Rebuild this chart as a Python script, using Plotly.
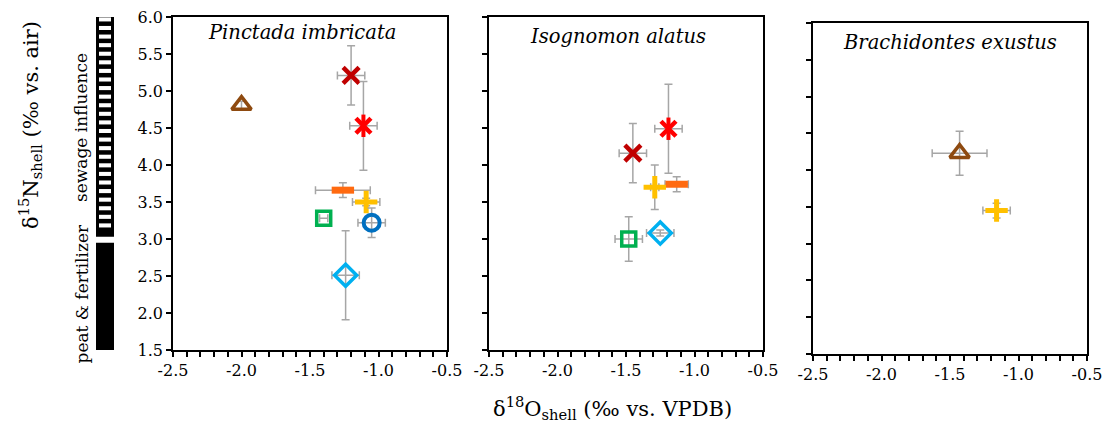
import plotly.graph_objects as go

# ---------------- data ----------------
panel_titles = ["Pinctada imbricata", "Isognomon alatus", "Brachidontes exustus"]

x_ticks = [-2.5, -2.0, -1.5, -1.0, -0.5]
y_ticks = [1.5, 2.0, 2.5, 3.0, 3.5, 4.0, 4.5, 5.0, 5.5, 6.0]

# per series: values per panel (None = absent)
tri_x = [-2.00, None, -1.43]
tri_y = [4.81, None, 4.23]
tri_ex = [0.0, None, 0.20]
tri_ey = [0.05, None, 0.30]

xdr_x = [-1.20, -1.45, None]
xdr_y = [5.21, 4.16, None]
xdr_ex = [0.10, 0.10, None]
xdr_ey = [0.40, 0.40, None]

ast_x = [-1.11, -1.19, None]
ast_y = [4.53, 4.49, None]
ast_ex = [0.10, 0.10, None]
ast_ey = [0.60, 0.60, None]

dash_x = [-1.26, -1.13, None]
dash_y = [3.66, 3.74, None]
dash_ex = [0.20, 0.085, None]
dash_ey = [0.10, 0.10, None]

plus_x = [-1.09, -1.29, -1.16]
plus_y = [3.50, 3.70, 3.45]
plus_ex = [0.10, 0.03, 0.10]
plus_ey = [0.05, 0.30, 0.10]

sq_x = [-1.40, -1.48, None]
sq_y = [3.28, 3.00, None]
sq_ex = [0.03, 0.10, None]
sq_ey = [0.0, 0.30, None]

circ_x = [-1.05, None, None]
circ_y = [3.22, None, None]
circ_ex = [0.10, None, None]
circ_ey = [0.20, None, None]

dia_x = [-1.24, -1.25, None]
dia_y = [2.51, 3.08, None]
dia_ex = [0.10, 0.10, None]
dia_ey = [0.60, 0.04, None]

source_bands = ["sewage influence", "peat & fertilizer"]
band_low = [3.0, 1.5]
band_high = [6.0, 3.0]

# ---------------- styles ----------------
series = [
    (tri_x, tri_y, tri_ex, tri_ey, [("triangle-up-open", 17, 3.5)], "#8E4A10"),
    (xdr_x, xdr_y, xdr_ex, xdr_ey, [("x-thin-open", 16, 4.5)], "#C00000"),
    (ast_x, ast_y, ast_ex, ast_ey, [("x-thin-open", 15, 4.5), ("line-ns-open", 16, 4)], "#FF0000"),
    (dash_x, dash_y, dash_ex, dash_ey, [("line-ew-open", 16, 7)], "#FF6A10"),
    (plus_x, plus_y, plus_ex, plus_ey, [("cross-thin-open", 16, 5)], "#FFC000"),
    (sq_x, sq_y, sq_ex, sq_ey, [("square-open", 14, 3.5)], "#00B050"),
    (circ_x, circ_y, circ_ex, circ_ey, [("circle-open", 16, 4)], "#0070C0"),
    (dia_x, dia_y, dia_ex, dia_ey, [("diamond-open", 17, 3.5)], "#00B0F0"),
]

W, H = 1111, 425
SERIF = "DejaVu Serif"
ERR = "#A6A6A6"

fig = go.Figure()

for (xs, ys, exs, eys, layers, col) in series:
    for p in range(3):
        if xs[p] is None:
            continue
        suffix = "" if p == 0 else str(p + 1)
        for k, (sym, size, lw) in enumerate(layers):
            fig.add_trace(go.Scatter(
                x=[xs[p]], y=[ys[p]], mode="markers",
                xaxis="x" + suffix, yaxis="y" + suffix,
                marker=dict(symbol=sym, size=size, color=col,
                            line=dict(color=col, width=lw)),
                error_x=dict(type="data", array=[exs[p]], color=ERR,
                             thickness=1.5, width=4, visible=(k == 0 and exs[p] > 0)),
                error_y=dict(type="data", array=[eys[p]], color=ERR,
                             thickness=1.5, width=4, visible=(k == 0 and eys[p] > 0)),
                showlegend=False, hoverinfo="skip",
            ))

x_dom_px = [(173, 447), (489, 763), (813, 1087)]
y_dom_px = [(17, 350), (17, 350), (23, 354)]

axis_common = dict(showline=True, linecolor="black", linewidth=1.5, mirror=True,
                   ticks="outside", ticklen=5, tickwidth=1.5, tickcolor="black",
                   showgrid=False, zeroline=False, automargin=False,
                   tickfont=dict(family=SERIF, size=16, color="black"))

layout = dict(width=W, height=H, margin=dict(l=0, r=0, t=0, b=0, autoexpand=False),
              paper_bgcolor="white", plot_bgcolor="white", showlegend=False,
              font=dict(family=SERIF))

for p in range(3):
    suffix = "" if p == 0 else str(p + 1)
    x0, x1 = x_dom_px[p]
    yt, yb = y_dom_px[p]
    layout["xaxis" + suffix] = dict(
        axis_common, domain=[x0 / W, x1 / W], range=[-2.5, -0.5],
        tickvals=x_ticks, ticktext=[f"{v:.1f}" for v in x_ticks],
        minor=dict(dtick=0.1, tick0=-2.5, ticks="outside", ticklen=5,
                   tickwidth=1.5, tickcolor="black", showgrid=False),
        anchor="y" + suffix,
    )
    layout["yaxis" + suffix] = dict(
        axis_common, domain=[1 - yb / H, 1 - yt / H], range=[1.5, 6.0],
        tickvals=y_ticks, ticktext=[f"{v:.1f}" for v in y_ticks],
        showticklabels=(p == 0), anchor="x" + suffix,
    )

fig.update_layout(**layout)

title_y_px = [33, 37, 42]
title_x = [0.47, 0.47, 0.5]
for p in range(3):
    suffix = "" if p == 0 else str(p + 1)
    fig.add_annotation(text=panel_titles[p], xref=("x" + suffix + " domain"),
                       yref="paper", x=title_x[p], y=1 - title_y_px[p] / H,
                       showarrow=False, xanchor="center", yanchor="middle",
                       font=dict(family=SERIF, size=19.5, color="black", style="italic"))

fig.add_annotation(text="δ<sup>18</sup>O<sub>shell</sub> (‰ vs. VPDB)", xref="paper", yref="paper",
                   x=612 / W, y=1 - 408 / H, showarrow=False, xanchor="center", yanchor="middle",
                   font=dict(family=SERIF, size=21, color="black"))
fig.add_annotation(text="δ<sup>15</sup>N<sub>shell</sub> (‰ vs. air)", xref="paper", yref="paper",
                   x=30 / W, y=1 - 125 / H, showarrow=False, textangle=-90,
                   xanchor="center", yanchor="middle",
                   font=dict(family=SERIF, size=21, color="black"))

bx0, bx1 = 96 / W, 114 / W
label_x = 81 / W
shapes = []
for name, lo, hi in zip(source_bands, band_low, band_high):
    if name == "sewage influence":
        top, bot = hi + 0.03, lo + 0.03
        shapes.append(dict(type="rect", xref="paper", yref="y", x0=bx0, x1=bx1, y0=bot, y1=top,
                           fillcolor="black", line=dict(width=0), layer="above"))
        period = 0.116
        yy = top - 0.035
        while yy - 0.05 > bot + 0.02:
            shapes.append(dict(type="rect", xref="paper", yref="y",
                               x0=bx0 + 3 / W, x1=bx1 - 3 / W, y0=yy - 0.055, y1=yy,
                               fillcolor="white", line=dict(width=0), layer="above"))
            yy -= period
    else:
        shapes.append(dict(type="rect", xref="paper", yref="y", x0=bx0, x1=bx1, y0=lo, y1=hi - 0.05,
                           fillcolor="black", line=dict(width=0), layer="above"))
    fig.add_annotation(text=name, xref="paper", yref="y", x=label_x, y=(lo + hi) / 2,
                       textangle=-90, showarrow=False, xanchor="center", yanchor="middle",
                       font=dict(family=SERIF, size=17, color="black"))
fig.update_layout(shapes=shapes)

fig.write_html("out.html")
